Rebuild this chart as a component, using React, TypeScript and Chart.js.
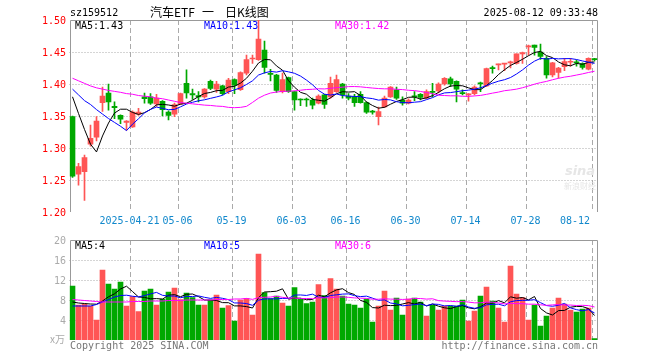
import React, { useEffect, useRef } from 'react';
import { Chart, registerables } from 'chart.js';

Chart.register(...registerables);

// ---------- data ----------
const dates = [
  '2025-04-07','2025-04-08','2025-04-09','2025-04-10','2025-04-11','2025-04-14','2025-04-15','2025-04-16','2025-04-17','2025-04-18',
  '2025-04-21','2025-04-22','2025-04-23','2025-04-24','2025-04-25','2025-04-28','2025-04-29','2025-04-30','2025-05-06','2025-05-07',
  '2025-05-08','2025-05-09','2025-05-12','2025-05-13','2025-05-14','2025-05-15','2025-05-16','2025-05-19','2025-05-20','2025-05-21',
  '2025-05-22','2025-05-23','2025-05-26','2025-05-27','2025-05-28','2025-05-29','2025-05-30','2025-06-03','2025-06-04','2025-06-05',
  '2025-06-06','2025-06-09','2025-06-10','2025-06-11','2025-06-12','2025-06-13','2025-06-16','2025-06-17','2025-06-18','2025-06-19',
  '2025-06-20','2025-06-23','2025-06-24','2025-06-25','2025-06-26','2025-06-27','2025-06-30','2025-07-01','2025-07-02','2025-07-03',
  '2025-07-04','2025-07-07','2025-07-08','2025-07-09','2025-07-10','2025-07-11','2025-07-14','2025-07-15','2025-07-16','2025-07-17',
  '2025-07-18','2025-07-21','2025-07-22','2025-07-23','2025-07-24','2025-07-25','2025-07-28','2025-07-29','2025-07-30','2025-07-31',
  '2025-08-01','2025-08-04','2025-08-05','2025-08-06','2025-08-07','2025-08-08','2025-08-11','2025-08-12',
];

const opens = [
  1.349,1.259,1.263,1.306,1.317,1.371,1.386,1.365,1.351,1.340,
  1.333,1.353,1.380,1.380,1.369,1.373,1.356,1.353,1.369,1.401,
  1.385,1.382,1.380,1.404,1.392,1.397,1.388,1.407,1.391,1.417,
  1.439,1.438,1.453,1.416,1.414,1.388,1.410,1.388,1.376,1.376,
  1.375,1.370,1.383,1.380,1.388,1.400,1.381,1.380,1.384,1.371,
  1.3565,1.349,1.364,1.380,1.391,1.375,1.370,1.381,1.384,1.378,
  1.388,1.389,1.400,1.408,1.404,1.386,1.383,1.385,1.402,1.397,
  1.425,1.430,1.431,1.433,1.432,1.447,1.458,1.461,1.450,1.440,
  1.414,1.418,1.427,1.434,1.434,1.432,1.423,1.439,
];
const highs = [
  1.350,1.276,1.289,1.336,1.349,1.395,1.400,1.372,1.352,1.343,
  1.358,1.362,1.386,1.385,1.384,1.374,1.358,1.370,1.386,1.422,
  1.392,1.388,1.393,1.406,1.404,1.398,1.409,1.408,1.419,1.445,
  1.445,1.500,1.467,1.423,1.415,1.417,1.411,1.389,1.377,1.378,
  1.378,1.383,1.384,1.411,1.414,1.401,1.385,1.384,1.388,1.372,
  1.359,1.364,1.381,1.396,1.395,1.380,1.377,1.388,1.385,1.391,
  1.401,1.402,1.410,1.411,1.405,1.391,1.385,1.397,1.403,1.425,
  1.428,1.431,1.432,1.436,1.447,1.450,1.461,1.461,1.4625,1.443,
  1.434,1.426,1.440,1.440,1.4375,1.433,1.441,1.440,
];
const lows = [
  1.254,1.242,1.218,1.303,1.311,1.357,1.359,1.346,1.338,1.328,
  1.332,1.351,1.370,1.368,1.365,1.350,1.344,1.349,1.368,1.378,
  1.376,1.372,1.378,1.391,1.387,1.383,1.385,1.385,1.390,1.414,
  1.432,1.437,1.417,1.405,1.387,1.386,1.387,1.359,1.366,1.365,
  1.361,1.369,1.362,1.378,1.387,1.378,1.375,1.365,1.370,1.354,
  1.353,1.336,1.363,1.379,1.376,1.367,1.369,1.374,1.375,1.377,
  1.380,1.386,1.398,1.396,1.372,1.383,1.373,1.383,1.388,1.396,
  1.417,1.422,1.421,1.425,1.431,1.432,1.445,1.445,1.4385,1.409,
  1.411,1.409,1.421,1.428,1.428,1.423,1.422,1.436,
];
const closes = [
  1.256,1.271,1.285,1.315,1.342,1.381,1.372,1.363,1.345,1.342,
  1.356,1.356,1.377,1.370,1.378,1.360,1.351,1.368,1.385,1.386,
  1.383,1.380,1.392,1.393,1.400,1.385,1.406,1.398,1.418,1.438,
  1.440,1.470,1.426,1.415,1.390,1.407,1.388,1.375,1.375,1.375,
  1.367,1.381,1.368,1.401,1.407,1.383,1.378,1.371,1.371,1.356,
  1.356,1.357,1.378,1.395,1.378,1.370,1.375,1.380,1.379,1.388,
  1.387,1.400,1.409,1.400,1.392,1.385,1.384,1.395,1.400,1.424,
  1.424,1.431,1.432,1.434,1.447,1.449,1.459,1.457,1.443,1.414,
  1.433,1.425,1.435,1.435,1.433,1.426,1.440,1.438,
];
// volume, in 万 (10k)
const volumes = [
  10.8,7.0,7.2,6.8,4.0,14.0,11.2,10.2,11.6,6.8,
  8.7,5.7,9.8,10.2,7.0,8.2,9.6,10.4,8.1,9.4,
  8.5,7.0,7.0,8.0,9.0,6.4,6.9,3.8,8.0,8.3,
  5.0,17.2,9.5,8.3,8.8,7.4,6.8,10.5,8.3,7.3,
  7.6,11.1,8.9,12.3,10.2,8.8,7.2,7.0,6.4,8.2,
  3.6,6.8,9.8,6.0,8.4,5.0,8.2,8.4,7.6,4.8,
  7.0,6.0,6.8,6.8,6.8,8.0,3.8,5.8,8.8,10.6,
  7.8,6.4,3.6,14.8,9.2,8.5,4.0,7.0,2.8,4.8,
  6.4,8.4,7.2,6.0,5.6,6.2,6.4,0.3,
];

// moving-average values before a full window is available
const ma5Head = [1.380, 1.354, 1.329, 1.306];
const ma10Head = [1.392, 1.383, 1.374, 1.368, 1.360, 1.353, 1.346, 1.340, 1.334];
const ma30Head = [
  1.409,1.405,1.401,1.397,1.394,1.392,1.390,1.3885,1.387,1.385,
  1.384,1.382,1.381,1.380,1.378,1.377,1.375,1.373,1.371,1.370,
  1.369,1.368,1.367,1.3665,1.3655,1.365,1.3635,1.363,1.3635,
];
const vma5Head = [7.6, 7.4, 7.3, 7.2];
const vma10Head = [6.8, 6.8, 6.8, 6.8, 7.1, 7.6, 8.1, 8.6, 8.9];
const vma30Head = [
  8.1,8.0,7.9,7.8,7.7,7.6,7.6,7.6,7.6,7.6,
  7.7,7.7,7.7,7.8,7.8,7.8,7.9,7.9,7.9,8.0,
  8.0,8.0,8.0,8.0,8.1,8.1,8.1,8.2,8.2,
];

const tickDates = ['2025-04-21','2025-05-06','2025-05-19','2025-06-03','2025-06-16','2025-06-30','2025-07-14','2025-07-28','2025-08-12'];
const tickLabels = ['2025-04-21','05-06','05-19','06-03','06-16','06-30','07-14','07-28','08-12'];
const priceTicks = [1.20, 1.25, 1.30, 1.35, 1.40, 1.45, 1.50];
const volumeTicks = [4, 8, 12, 16, 20];

const symbol = 'sz159512';
const titleParts = ['汽车ETF', '一', '日K线图'];
const timeText = '2025-08-12 09:33:48';

// ---------- styles ----------
const RED = '#ff5555';
const GREEN = '#00a800';
const MONO = '10px "DejaVu Sans Mono", "Liberation Mono", monospace';
const GRID = '#aaaaaa';
const BORDER = '#999999';
const XLABEL = '#1188cc';

function movingAverage(values: number[], n: number, head: number[]) {
  return values.map((_, i) => {
    if (i < n - 1) return head[i];
    let s = 0;
    for (let j = i - n + 1; j <= i; j++) s += values[j];
    return s / n;
  });
}

const candleColors = closes.map((c, i) => (c >= opens[i] ? RED : GREEN));

function drawVerticalGrid(chart: any) {
  const { ctx, chartArea, scales } = chart;
  ctx.save();
  ctx.strokeStyle = GRID;
  ctx.lineWidth = 1;
  ctx.setLineDash([5, 3]);
  tickDates.forEach((d) => {
    const idx = dates.indexOf(d);
    const px = Math.floor(scales.x.getPixelForValue(idx) - 2) + 0.5;
    ctx.beginPath();
    ctx.moveTo(px, chartArea.top);
    ctx.lineTo(px, chartArea.bottom);
    ctx.stroke();
  });
  ctx.restore();
}

function drawFrame(chart: any) {
  const { ctx, chartArea } = chart;
  const l = Math.round(chartArea.left) + 0.5;
  const r = Math.floor(chartArea.right) + 0.5;
  const t = Math.round(chartArea.top) + 0.5;
  ctx.save();
  ctx.strokeStyle = BORDER;
  ctx.lineWidth = 1;
  ctx.setLineDash([]);
  ctx.beginPath();
  ctx.moveTo(l, chartArea.bottom);
  ctx.lineTo(l, t);
  ctx.lineTo(r, t);
  ctx.lineTo(r, chartArea.bottom);
  ctx.stroke();
  ctx.restore();
}

export default function App() {
  const mainRef = useRef<HTMLCanvasElement>(null);
  const volRef = useRef<HTMLCanvasElement>(null);

  useEffect(() => {
    const ma5 = movingAverage(closes, 5, ma5Head);
    const ma10 = movingAverage(closes, 10, ma10Head);
    const ma30 = movingAverage(closes, 30, ma30Head);
    const vma5 = movingAverage(volumes, 5, vma5Head);
    const vma10 = movingAverage(volumes, 10, vma10Head);
    const vma30 = movingAverage(volumes, 30, vma30Head);
    const last = dates.length - 1;

    const mainDecor = {
      id: 'mainDecor',
      beforeDatasetsDraw(chart: any) {
        const { ctx, chartArea, scales } = chart;
        ctx.save();
        ctx.strokeStyle = GRID;
        ctx.lineWidth = 1;
        ctx.setLineDash([1, 2]);
        priceTicks.forEach((v) => {
          if (v <= 1.2 || v >= 1.5) return;
          const py = Math.round(scales.y.getPixelForValue(v)) + 0.5;
          ctx.beginPath();
          ctx.moveTo(chartArea.left, py);
          ctx.lineTo(chartArea.right, py);
          ctx.stroke();
        });
        ctx.restore();
        drawVerticalGrid(chart);
        drawFrame(chart);
        // faint watermark behind the marks
        ctx.save();
        ctx.fillStyle = '#e6e6e6';
        ctx.font = 'italic bold 13px "DejaVu Sans", sans-serif';
        ctx.textAlign = 'center';
        ctx.textBaseline = 'middle';
        ctx.fillText('sina', 580, 172);
        ctx.font = '8px "Noto Sans CJK SC", sans-serif';
        ctx.fillText('新浪财经', 580, 186);
        ctx.restore();
      },
      afterDraw(chart: any) {
        const { ctx, scales } = chart;
        ctx.save();
        ctx.font = MONO;
        ctx.textBaseline = 'middle';
        // y tick labels
        ctx.fillStyle = '#ff0000';
        ctx.textAlign = 'right';
        priceTicks.forEach((v) => {
          ctx.fillText(v.toFixed(2), 66, scales.y.getPixelForValue(v) + 1);
        });
        // x tick labels
        ctx.fillStyle = XLABEL;
        ctx.textAlign = 'center';
        tickDates.forEach((d, i) => {
          const idx = dates.indexOf(d);
          let cx = scales.x.getPixelForValue(idx) - 3;
          const w = ctx.measureText(tickLabels[i]).width;
          if (cx + w / 2 > 590) cx = 590 - w / 2;
          ctx.fillText(tickLabels[i], cx, 221);
        });
        // header
        ctx.textAlign = 'left';
        ctx.fillStyle = '#000';
        ctx.fillText(symbol, 70, 13);
        ctx.textAlign = 'right';
        ctx.fillText(timeText, 598, 13);
        ctx.textAlign = 'left';
        ctx.font = '12px "Noto Sans CJK SC", sans-serif';
        ctx.fillText(titleParts[0], 150, 12);
        ctx.fillText(titleParts[1], 202, 12);
        ctx.fillText(titleParts[2], 225, 12);
        // MA legends
        ctx.font = MONO;
        ctx.fillStyle = '#000';
        ctx.fillText('MA5:' + ma5[last].toFixed(2), 75, 26);
        ctx.fillStyle = '#0000ff';
        ctx.fillText('MA10:' + ma10[last].toFixed(2), 204, 26);
        ctx.fillStyle = '#ff00ff';
        ctx.fillText('MA30:' + ma30[last].toFixed(2), 335, 26);
        ctx.restore();
      },
    };

    const volDecor = {
      id: 'volDecor',
      beforeDatasetsDraw(chart: any) {
        const { ctx, chartArea, scales } = chart;
        ctx.save();
        ctx.strokeStyle = GRID;
        ctx.lineWidth = 1;
        ctx.setLineDash([1, 2]);
        volumeTicks.forEach((v) => {
          if (v >= 20) return;
          const py = Math.round(scales.y.getPixelForValue(v)) + 0.5;
          ctx.beginPath();
          ctx.moveTo(chartArea.left, py);
          ctx.lineTo(chartArea.right, py);
          ctx.stroke();
        });
        ctx.restore();
        drawVerticalGrid(chart);
        drawFrame(chart);
      },
      afterDraw(chart: any) {
        const { ctx, scales } = chart;
        ctx.save();
        ctx.font = MONO;
        ctx.textBaseline = 'middle';
        ctx.fillStyle = '#aaaaaa';
        ctx.textAlign = 'right';
        volumeTicks.forEach((v) => {
          ctx.fillText(String(v), 66, scales.y.getPixelForValue(v) + 1);
        });
        ctx.textAlign = 'left';
        ctx.font = '10px "Noto Sans CJK SC", sans-serif';
        ctx.fillText('x万', 50, 109);
        ctx.font = MONO;
        ctx.fillStyle = '#000';
        ctx.fillText('MA5:' + Math.floor(vma5[last]), 75, 16);
        ctx.fillStyle = '#0000ff';
        ctx.fillText('MA10:' + Math.floor(vma10[last]), 204, 16);
        ctx.fillStyle = '#ff00ff';
        ctx.fillText('MA30:' + Math.floor(vma30[last]), 335, 16);
        ctx.fillStyle = '#777777';
        ctx.fillText('Copyright 2025 SINA.COM', 70, 116);
        ctx.textAlign = 'right';
        ctx.fillText('http://finance.sina.com.cn', 598, 116);
        ctx.restore();
      },
    };

    const lineDs = (data: number[], color: string) => ({
      type: 'line' as const,
      data,
      borderColor: color,
      borderWidth: 1,
      pointRadius: 0,
      tension: 0,
      fill: false,
      order: 0,
    });

    const main = new Chart(mainRef.current as HTMLCanvasElement, {
      type: 'bar',
      data: {
        labels: dates,
        datasets: [
          {
            type: 'bar',
            data: lows.map((l, i) => [l, highs[i]]) as any,
            backgroundColor: candleColors,
            borderWidth: 0,
            barThickness: 1,
            grouped: false,
            order: 3,
          } as any,
          {
            type: 'bar',
            data: opens.map((o, i) => [o, closes[i]]) as any,
            backgroundColor: candleColors,
            borderWidth: 0,
            barThickness: 5,
            minBarLength: 1,
            grouped: false,
            order: 2,
          } as any,
          lineDs(ma30, '#ff00ff'),
          lineDs(ma10, '#0000ff'),
          lineDs(ma5, '#000000'),
        ],
      },
      options: {
        responsive: false,
        animation: false,
        devicePixelRatio: 1,
        events: [],
        layout: { padding: { left: 69.5, right: 62.5, top: 20, bottom: 18 } },
        plugins: { legend: { display: false }, tooltip: { enabled: false } },
        scales: {
          x: { type: 'category', display: false, offset: true, grid: { display: false } },
          y: { display: false, min: 1.2, max: 1.5 },
        },
      },
      plugins: [mainDecor],
    });

    const vol = new Chart(volRef.current as HTMLCanvasElement, {
      type: 'bar',
      data: {
        labels: dates,
        datasets: [
          {
            type: 'bar',
            data: volumes,
            backgroundColor: candleColors,
            borderWidth: 0,
            barThickness: 5,
            grouped: false,
            order: 2,
          } as any,
          lineDs(vma30, '#ff00ff'),
          lineDs(vma10, '#0000ff'),
          lineDs(vma5, '#000000'),
        ],
      },
      options: {
        responsive: false,
        animation: false,
        devicePixelRatio: 1,
        events: [],
        layout: { padding: { left: 69.5, right: 62.5, top: 10, bottom: 20 } },
        plugins: { legend: { display: false }, tooltip: { enabled: false } },
        scales: {
          x: { type: 'category', display: false, offset: true, grid: { display: false } },
          y: { display: false, min: 0, max: 20 },
        },
      },
      plugins: [volDecor],
    });

    return () => {
      main.destroy();
      vol.destroy();
    };
  }, []);

  return (
    <div style={{ position: 'fixed', left: 0, top: 0, width: 660, height: 360, background: '#fff' }}>
      <canvas ref={mainRef} width={660} height={230} style={{ position: 'absolute', left: 0, top: 0, width: 660, height: 230 }} />
      <canvas ref={volRef} width={660} height={130} style={{ position: 'absolute', left: 0, top: 230, width: 660, height: 130 }} />
    </div>
  );
}
